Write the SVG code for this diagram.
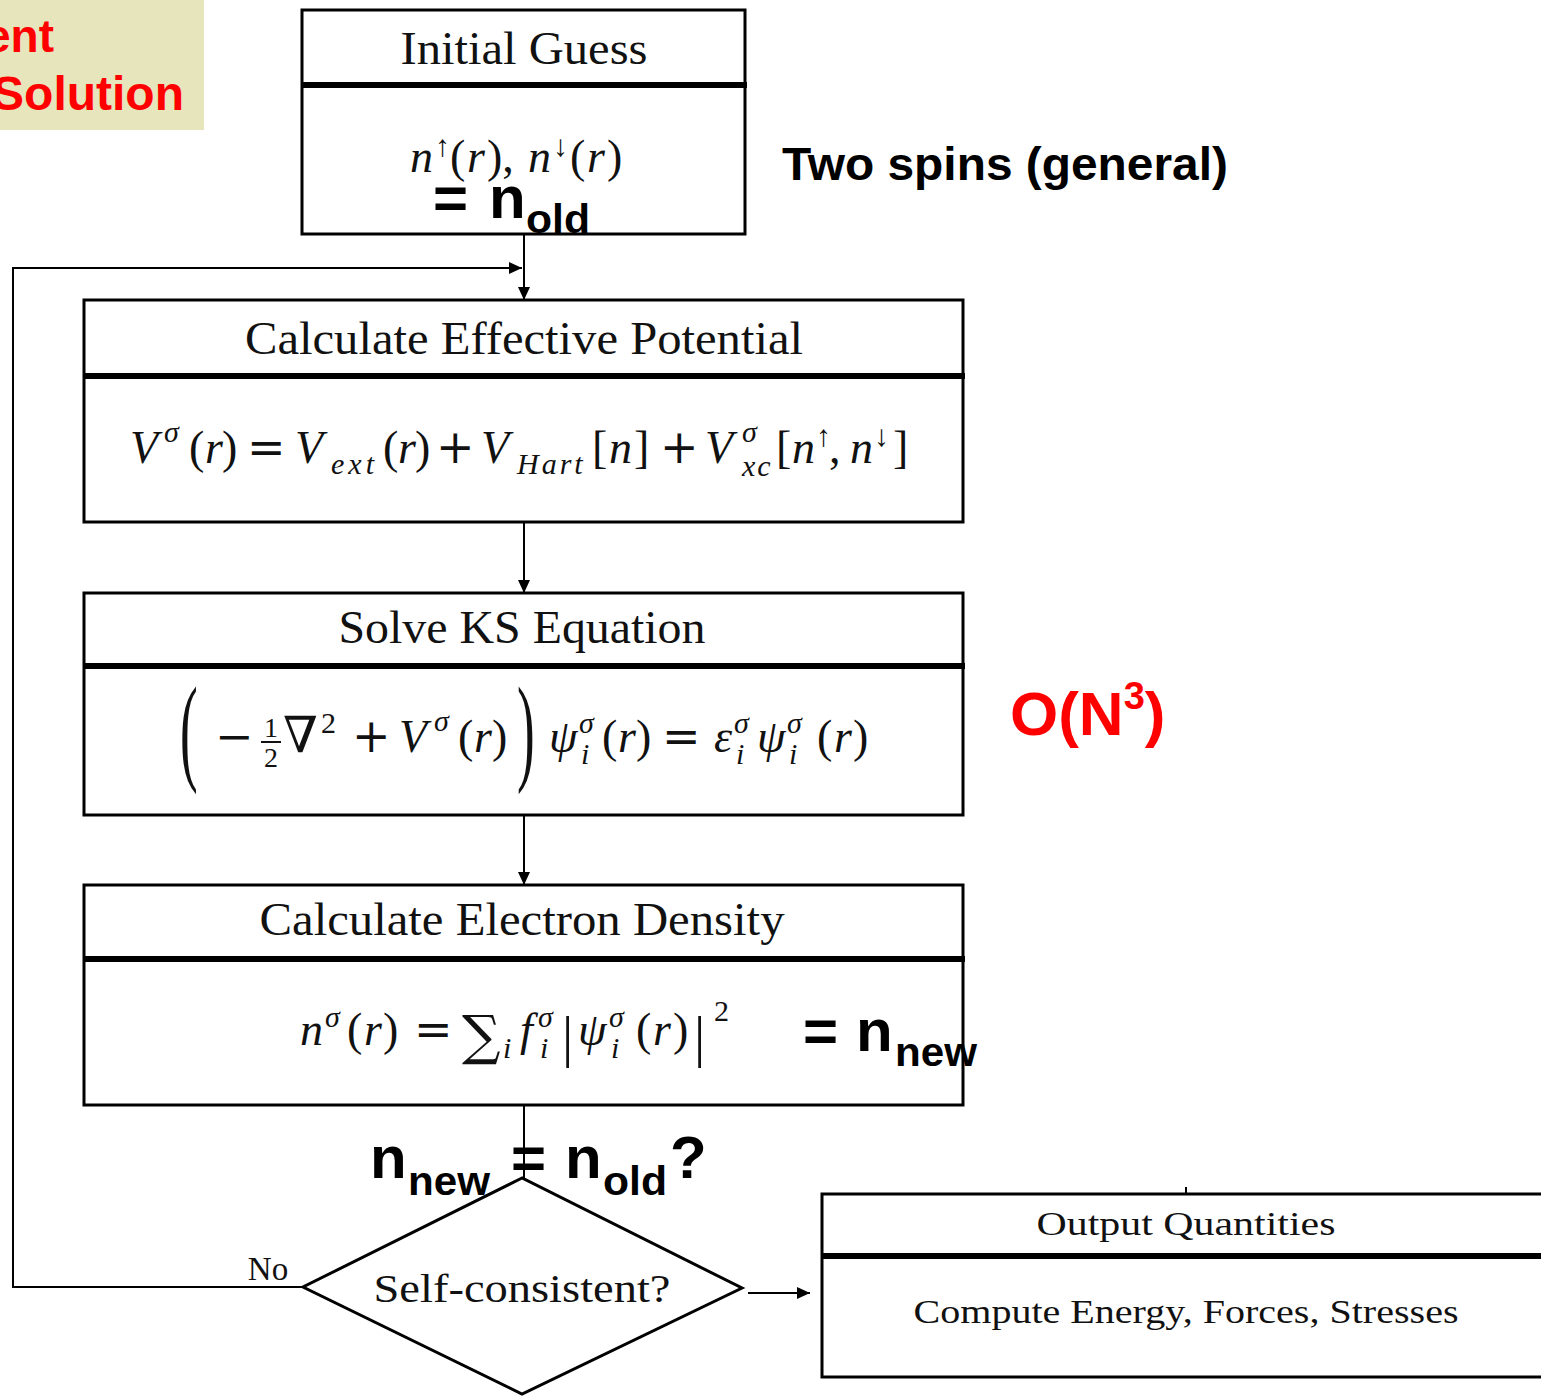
<svg xmlns="http://www.w3.org/2000/svg" width="1541" height="1396" viewBox="0 0 1541 1396">
<style>
.box{fill:#fff;stroke:#000;stroke-width:3}
.div{stroke:#000;stroke-width:6}
.ttl{font-family:"Liberation Serif","DejaVu Serif",serif;fill:#111;text-anchor:middle}
.m{font-family:"Liberation Serif","DejaVu Serif",serif;fill:#111;font-size:46px}
.i{font-style:italic}
.op{font-family:"DejaVu Serif",serif}
.sm{font-size:30px}
.ar{font-size:30px}
.b{font-family:"Liberation Sans",Arial,sans-serif;font-weight:bold;fill:#000}
.red{fill:#f00}
.con{fill:none;stroke:#000;stroke-width:2}
.big{font-family:"Liberation Serif","DejaVu Serif",serif;fill:#111;font-size:118px}
</style>
<defs>
<marker id="ah" markerUnits="userSpaceOnUse" markerWidth="14" markerHeight="12" refX="13" refY="6" orient="auto">
<path d="M0,0 L13,6 L0,12 Z" fill="#000"/>
</marker>
</defs>

<g id="label-solution">
<rect x="0" y="0" width="204" height="130" fill="#e6e5bb"/>
<text class="b red" x="54" y="52" font-size="46" text-anchor="end">ent</text>
<text class="b red" x="184" y="110" font-size="48" text-anchor="end">Solution</text>
</g>

<g id="connectors">
<line class="con" x1="524" y1="234" x2="524" y2="300" marker-end="url(#ah)"/>
<polyline class="con" points="303,1287 13,1287 13,268 522,268" marker-end="url(#ah)"/>
<line class="con" x1="524" y1="522" x2="524" y2="593" marker-end="url(#ah)"/>
<line class="con" x1="524" y1="815" x2="524" y2="885" marker-end="url(#ah)"/>
<line class="con" x1="524" y1="1105" x2="524" y2="1178"/>
<line class="con" x1="748" y1="1293" x2="810" y2="1293" marker-end="url(#ah)"/>
<line class="con" x1="1186" y1="1187" x2="1186" y2="1194"/>
</g>

<g id="initial-guess">
<rect class="box" x="302" y="10" width="443" height="224"/>
<line class="div" x1="302" y1="85" x2="747" y2="85"/>
<text class="ttl" x="524" y="64" font-size="46" textLength="247" lengthAdjust="spacingAndGlyphs">Initial Guess</text>
<text class="m">
<tspan class="i" x="410" y="172">n</tspan><tspan class="ar" x="435" y="156">↑</tspan><tspan x="450" y="172">(</tspan><tspan class="i" x="467">r</tspan><tspan x="487">),</tspan>
<tspan class="i" x="528" y="172">n</tspan><tspan class="ar" x="553" y="156">↓</tspan><tspan x="570" y="172">(</tspan><tspan class="i" x="587">r</tspan><tspan x="607">)</tspan>
</text>
<text class="b" x="433" y="218" font-size="60">=</text>
<text class="b" x="489" y="218" font-size="60">n</text>
<text class="b" x="526" y="233" font-size="40" textLength="64" lengthAdjust="spacingAndGlyphs">old</text>
</g>

<g id="effective-potential">
<rect class="box" x="84" y="300" width="879" height="222"/>
<line class="div" x1="84" y1="376" x2="965" y2="376"/>
<text class="ttl" x="524" y="354" font-size="46" textLength="558" lengthAdjust="spacingAndGlyphs">Calculate Effective Potential</text>
<text class="m">
<tspan class="i" x="130" y="463">V</tspan><tspan class="i sm" x="164" y="442">σ</tspan><tspan x="189" y="463">(</tspan><tspan class="i" x="205">r</tspan><tspan x="222">)</tspan>
<tspan class="op" x="247" y="463">=</tspan>
<tspan class="i" x="295" y="463">V</tspan><tspan class="i sm" x="331" y="474" letter-spacing="4">ext</tspan><tspan x="383" y="463">(</tspan><tspan class="i" x="398">r</tspan><tspan x="415">)</tspan>
<tspan class="op" x="436" y="463">+</tspan>
<tspan class="i" x="481" y="463">V</tspan><tspan class="i sm" x="517" y="474" letter-spacing="3">Hart</tspan><tspan x="592" y="463">[</tspan><tspan class="i" x="609">n</tspan><tspan x="634">]</tspan>
<tspan class="op" x="660" y="463">+</tspan>
<tspan class="i" x="705" y="463">V</tspan><tspan class="i sm" x="742" y="442">σ</tspan><tspan class="i sm" x="742" y="476" letter-spacing="2">xc</tspan>
<tspan x="776" y="463">[</tspan><tspan class="i" x="792">n</tspan><tspan class="ar" x="816" y="446">↑</tspan><tspan x="829" y="463">,</tspan>
<tspan class="i" x="850" y="463">n</tspan><tspan class="ar" x="874" y="446">↓</tspan><tspan x="893" y="463">]</tspan>
</text>
</g>

<g id="solve-ks">
<rect class="box" x="84" y="593" width="879" height="222"/>
<line class="div" x1="84" y1="666" x2="965" y2="666"/>
<text class="ttl" x="522" y="643" font-size="46" textLength="367" lengthAdjust="spacingAndGlyphs">Solve KS Equation</text>
<text class="big" transform="translate(180,769) scale(0.45,1)">(</text>
<text class="m">
<tspan class="op" x="215" y="752">−</tspan>
<tspan x="264" y="737" font-size="28">1</tspan><tspan x="264" y="767" font-size="28">2</tspan>
<tspan class="op" x="283" y="752" font-size="50">∇</tspan><tspan class="sm" x="321" y="733">2</tspan>
<tspan class="op" x="352" y="752">+</tspan>
<tspan class="i" x="399" y="752">V</tspan><tspan class="i sm" x="434" y="731">σ</tspan><tspan x="458" y="752">(</tspan><tspan class="i" x="474">r</tspan><tspan x="492">)</tspan>
<tspan class="i" x="549" y="752">ψ</tspan><tspan class="i sm" x="579" y="733">σ</tspan><tspan class="i sm" x="581" y="764">i</tspan><tspan x="602" y="752">(</tspan><tspan class="i" x="618">r</tspan><tspan x="636">)</tspan>
<tspan class="op" x="662" y="752">=</tspan>
<tspan class="i" x="714" y="752">ε</tspan><tspan class="i sm" x="734" y="733">σ</tspan><tspan class="i sm" x="736" y="764">i</tspan>
<tspan class="i" x="757" y="752">ψ</tspan><tspan class="i sm" x="787" y="733">σ</tspan><tspan class="i sm" x="789" y="764">i</tspan><tspan x="817" y="752">(</tspan><tspan class="i" x="834">r</tspan><tspan x="853">)</tspan>
</text>
<line x1="261" y1="742" x2="281" y2="742" stroke="#111" stroke-width="2"/>
<text class="big" transform="translate(517,769) scale(0.45,1)">)</text>
</g>

<g id="electron-density">
<rect class="box" x="84" y="885" width="879" height="220"/>
<line class="div" x1="84" y1="959" x2="965" y2="959"/>
<text class="ttl" x="522" y="935" font-size="46" textLength="525" lengthAdjust="spacingAndGlyphs">Calculate Electron Density</text>
<text class="m">
<tspan class="i" x="300" y="1045">n</tspan><tspan class="i sm" x="325" y="1027">σ</tspan><tspan x="347" y="1045">(</tspan><tspan class="i" x="364">r</tspan><tspan x="383">)</tspan>
<tspan class="op" x="414" y="1045">=</tspan>
<tspan class="op" x="462" y="1054" font-size="54">∑</tspan><tspan class="i sm" x="503" y="1058">i</tspan>
<tspan class="i" x="520" y="1045">f</tspan><tspan class="i sm" x="538" y="1027">σ</tspan><tspan class="i sm" x="540" y="1058">i</tspan>
<tspan x="562" y="1056" font-size="56">|</tspan>
<tspan class="i" x="578" y="1045">ψ</tspan><tspan class="i sm" x="609" y="1027">σ</tspan><tspan class="i sm" x="611" y="1058">i</tspan><tspan x="636" y="1045">(</tspan><tspan class="i" x="653">r</tspan><tspan x="673">)</tspan>
<tspan x="694" y="1056" font-size="56">|</tspan><tspan class="sm" x="714" y="1021">2</tspan>
</text>
<text class="b" x="803" y="1051" font-size="60">=</text>
<text class="b" x="856" y="1051" font-size="60">n</text>
<text class="b" x="895" y="1066" font-size="40" textLength="82" lengthAdjust="spacingAndGlyphs">new</text>
</g>

<g id="self-consistent">
<polygon points="522,1178 303,1287 522,1394 742,1288" fill="#fff" stroke="#000" stroke-width="3"/>
<text class="ttl" x="522" y="1302" font-size="40" textLength="297" lengthAdjust="spacingAndGlyphs">Self-consistent?</text>
<text class="ttl" x="268" y="1280" font-size="33">No</text>
</g>

<g id="convergence-label">
<text class="b" x="370" y="1178" font-size="60">n</text>
<text class="b" x="408" y="1195" font-size="40" textLength="82" lengthAdjust="spacingAndGlyphs">new</text>
<text class="b" x="511" y="1178" font-size="60">=</text>
<text class="b" x="565" y="1178" font-size="60">n</text>
<text class="b" x="603" y="1195" font-size="40" textLength="64" lengthAdjust="spacingAndGlyphs">old</text>
<text class="b" x="670" y="1178" font-size="60">?</text>
</g>

<g id="output-quantities">
<rect class="box" x="822" y="1194" width="730" height="183"/>
<line class="div" x1="822" y1="1256" x2="1541" y2="1256"/>
<text class="ttl" x="1186" y="1235" font-size="34" textLength="299" lengthAdjust="spacingAndGlyphs">Output Quantities</text>
<text class="ttl" x="1186" y="1323" font-size="34" textLength="545" lengthAdjust="spacingAndGlyphs">Compute Energy, Forces, Stresses</text>
</g>

<g id="label-spins">
<text class="b" x="782" y="180" font-size="47" textLength="446" lengthAdjust="spacingAndGlyphs">Two spins (general)</text>
</g>

<g id="label-complexity">
<text class="b red" x="1010" y="735" font-size="62">O(N<tspan font-size="38" dy="-26">3</tspan><tspan dy="26">)</tspan></text>
</g>
</svg>
